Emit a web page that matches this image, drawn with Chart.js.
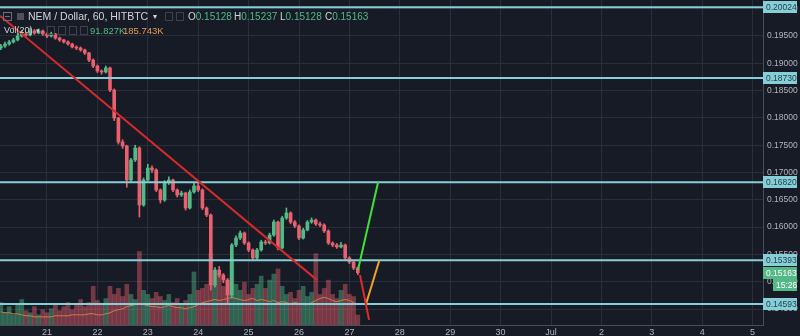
<!DOCTYPE html>
<html>
<head>
<meta charset="utf-8">
<script src="https://cdn.jsdelivr.net/npm/chart.js@4"></script>
<style>
  html, body { margin: 0; padding: 0; background: #171b26; }
  #wrap { width: 800px; height: 336px; }
</style>
</head>
<body>
<div id="wrap"><canvas id="nemChart" width="800" height="336"></canvas></div>
<script>
// NEM / Dollar, 60, HITBTC - 2 hour candles
const startDay = 20;          // June 20, first candle at 02:00
const stepHours = 2;
const firstOpen = 0.19280;
const closes = [
  0.19317, 0.19353, 0.19390, 0.19427, 0.19500, 0.19537, 0.19518, 0.19592, 0.19555, 0.19592,
  0.19537, 0.19500, 0.19537, 0.19463, 0.19427, 0.19390, 0.19353, 0.19299, 0.19280, 0.19244,
  0.19189, 0.19060, 0.18950, 0.18859, 0.18841, 0.18914, 0.18511, 0.17998, 0.17559, 0.17485,
  0.16863, 0.17229, 0.17449, 0.16405, 0.16863, 0.17082, 0.17046, 0.16680, 0.16496, 0.16808,
  0.16863, 0.16680, 0.16588, 0.16625, 0.16350, 0.16643, 0.16753, 0.16680, 0.16350, 0.16222,
  0.14940, 0.15214, 0.15123, 0.15031, 0.14756, 0.15672, 0.15800, 0.15892, 0.15709, 0.15581,
  0.15434, 0.15581, 0.15727, 0.15709, 0.15855, 0.16093, 0.15617, 0.16167, 0.16258, 0.16093,
  0.16020, 0.15800, 0.15947, 0.16093, 0.16130, 0.16057, 0.16038, 0.15929, 0.15709, 0.15672,
  0.15636, 0.15672, 0.15434, 0.15361, 0.15251, 0.15163
];
const highs = [
  0.19345, 0.19390, 0.19420, 0.19460, 0.19540, 0.19600, 0.19570, 0.19640, 0.19620, 0.19630,
  0.19610, 0.19560, 0.19570, 0.19550, 0.19480, 0.19440, 0.19410, 0.19370, 0.19320, 0.19300,
  0.19260, 0.19200, 0.19080, 0.18970, 0.18880, 0.18950, 0.18930, 0.18530, 0.18010, 0.17600,
  0.17500, 0.17260, 0.17500, 0.17470, 0.16900, 0.17150, 0.17120, 0.17070, 0.16700, 0.16850,
  0.16920, 0.16880, 0.16700, 0.16660, 0.16640, 0.16680, 0.16800, 0.16840, 0.16700, 0.16370,
  0.16240, 0.15260, 0.15280, 0.15150, 0.15060, 0.15700, 0.15840, 0.15930, 0.15910, 0.15730,
  0.15600, 0.15610, 0.15760, 0.15760, 0.15890, 0.16130, 0.16110, 0.16200, 0.16350, 0.16280,
  0.16120, 0.16040, 0.15980, 0.16120, 0.16170, 0.16150, 0.16090, 0.16060, 0.15950, 0.15730,
  0.15700, 0.15720, 0.15690, 0.15460, 0.15380, 0.15270
];
const lows = [
  0.19250, 0.19290, 0.19330, 0.19370, 0.19410, 0.19480, 0.19490, 0.19500, 0.19530, 0.19540,
  0.19510, 0.19470, 0.19480, 0.19440, 0.19400, 0.19370, 0.19330, 0.19280, 0.19250, 0.19220,
  0.19160, 0.19030, 0.18920, 0.18830, 0.18800, 0.18820, 0.18480, 0.17950, 0.17520, 0.17440,
  0.16730, 0.16820, 0.17200, 0.16185, 0.16380, 0.16840, 0.17000, 0.16650, 0.16440, 0.16470,
  0.16780, 0.16650, 0.16550, 0.16560, 0.16310, 0.16330, 0.16620, 0.16650, 0.16320, 0.16190,
  0.14848, 0.14900, 0.15080, 0.14980, 0.14610, 0.14700, 0.15640, 0.15770, 0.15680, 0.15550,
  0.15400, 0.15410, 0.15560, 0.15680, 0.15690, 0.15830, 0.15580, 0.15600, 0.16140, 0.16060,
  0.15990, 0.15770, 0.15780, 0.15930, 0.16070, 0.16030, 0.16010, 0.15900, 0.15680, 0.15640,
  0.15610, 0.15620, 0.15400, 0.15330, 0.15220, 0.15128
];
// volume in thousands
const volumes = [
  207, 113, 169, 94, 188, 235, 132, 113, 169, 94, 141, 113, 150, 188, 132, 169, 207, 141, 188, 235,
  169, 207, 357, 226, 188, 244, 357, 282, 338, 263, 376, 282, 235, 677, 320, 282, 244, 301, 263, 226,
  282, 207, 244, 188, 226, 282, 489, 320, 338, 376, 658, 376, 470, 357, 414, 583, 376, 320, 395, 282,
  338, 376, 451, 338, 414, 470, 517, 357, 282, 301, 244, 320, 357, 263, 301, 658, 282, 338, 414, 282,
  244, 320, 376, 282, 263, 92
];
const volumeMA = [
  122, 113, 113, 103, 103, 94, 85, 85, 75, 75, 75, 75, 75, 85, 85, 85, 85, 94, 94, 94,
  94, 103, 103, 94, 94, 103, 113, 132, 141, 150, 169, 179, 188, 197, 188, 179, 169, 169, 160, 169,
  179, 169, 160, 160, 150, 160, 169, 188, 207, 216, 226, 235, 226, 235, 244, 254, 244, 235, 226, 235,
  244, 226, 235, 226, 216, 226, 207, 216, 207, 197, 207, 197, 188, 188, 207, 226, 244, 254, 244, 226,
  216, 226, 235, 226, 207, 188
];

// horizontal levels and hand drawn lines (day of month, price)
const levels = [0.20024, 0.18730, 0.16820, 0.15393, 0.14593];
const redTrend = [[20.0675, 0.19870], [26.36, 0.15029]];
const greenLeg = [[27.17, 0.15214], [27.57, 0.16826]];
const redLeg = [[27.21, 0.15122], [27.39, 0.14300]];
const orangeLeg = [[27.33, 0.14591], [27.59, 0.15379]];

// axes
const dayTicks = [21, 22, 23, 24, 25, 26, 27, 28, 29, 30, 31, 32, 33, 34, 35];
const dayLabels = ["21", "22", "23", "24", "25", "26", "27", "28", "29", "30", "Jul", "2", "3", "4", "5"];
const priceTicks = [0.145, 0.150, 0.155, 0.160, 0.165, 0.170, 0.175, 0.180, 0.185, 0.190, 0.195, 0.200];
const xMin = 20.0675, xMax = 35.206;
const yMin = 0.14207, yMax = 0.20159;

const upColor = "#53b987";
const downColor = "#e9606e";
const levelColor = "#86cfd9";
const gridColor = "#2a2e3b";
const textColor = "#b2b5be";
const fontFamily = "'Liberation Sans', Arial, sans-serif";

// build candle pieces
const xs = closes.map((c, i) => startDay + (stepHours + stepHours * i) / 24);
const opens = closes.map((c, i) => (i === 0 ? firstOpen : closes[i - 1]));
const isUp = closes.map((c, i) => c >= opens[i]);

const wickData = xs.map((x, i) => ({ x: x, y: [lows[i], highs[i]] }));
const bodyData = xs.map((x, i) => ({ x: x, y: [opens[i], closes[i]] }));
const volData = xs.map((x, i) => ({ x: x, y: volumes[i] }));
const maData = xs.map((x, i) => ({ x: x, y: volumeMA[i] }));
const candleColors = isUp.map(u => (u ? upColor : downColor));
const volColors = isUp.map(u => (u ? "rgba(83,185,135,0.45)" : "rgba(233,96,110,0.45)"));

function segment(points, color, width) {
    return {
        type: "line",
        data: points.map(p => ({ x: p[0], y: p[1] })),
        borderColor: color,
        borderWidth: width,
        pointRadius: 0,
        tension: 0,
        yAxisID: "y",
        order: 1,
    };
}

const levelSets = levels.map(v => ({
    type: "line",
    data: [{ x: xMin, y: v }, { x: xMax, y: v }],
    borderColor: levelColor,
    borderWidth: 2,
    pointRadius: 0,
    yAxisID: "y",
    order: 3,
}));

// overlay: legend header and price axis boxes
const overlay = {
    id: "overlay",
    afterDraw(chart) {
        const ctx = chart.ctx;
        const y = chart.scales.y;
        ctx.save();

        // header icons
        ctx.strokeStyle = "#6a6e7a";
        ctx.lineWidth = 1;
        ctx.strokeRect(3.5, 12.5, 8, 8);
        ctx.beginPath(); ctx.moveTo(5, 16.5); ctx.lineTo(10, 16.5); ctx.stroke();
        ctx.fillStyle = "#4d515c";
        ctx.fillRect(17, 13, 7, 7);
        ctx.strokeStyle = "#3d414c";
        ctx.strokeRect(165.5, 12.5, 7, 8);
        ctx.strokeRect(176.5, 12.5, 7, 8);
        [47, 58, 69, 80].forEach(x => ctx.strokeRect(x + 0.5, 26.5, 7, 8));

        ctx.textBaseline = "middle";
        ctx.textAlign = "left";
        ctx.font = "10.5px " + fontFamily;
        ctx.fillStyle = "#d1d4dc";
        ctx.fillText("NEM / Dollar, 60, HITBTC", 28, 17);
        ctx.font = "8px " + fontFamily;
        ctx.fillText("\u25BE", 153, 17);

        const ohlc = [["O", "0.15128", 188], ["H", "0.15237", 234], ["L", "0.15128", 280], ["C", "0.15163", 325]];
        ctx.font = "10px " + fontFamily;
        ohlc.forEach(item => {
            ctx.fillStyle = "#d1d4dc";
            ctx.fillText(item[0], item[2], 17);
            const w = ctx.measureText(item[0]).width;
            ctx.fillStyle = upColor;
            ctx.fillText(item[1], item[2] + w, 17);
        });

        ctx.font = "9px " + fontFamily;
        ctx.fillStyle = "#d1d4dc";
        ctx.fillText("Vol(20)", 4, 31);
        ctx.font = "7px " + fontFamily;
        ctx.fillText("\u25BE", 36, 31);
        ctx.font = "9.5px " + fontFamily;
        ctx.fillStyle = upColor;
        ctx.fillText("91.827K", 90, 31);
        ctx.fillStyle = "#e69a52";
        ctx.fillText("185.743K", 123, 31);

        // price axis boxes
        ctx.font = "8.5px " + fontFamily;
        levels.forEach(v => {
            const py = Math.round(y.getPixelForValue(v));
            ctx.fillStyle = levelColor;
            ctx.fillRect(763, py - 6, 34, 12);
            ctx.fillStyle = "#25414a";
            ctx.fillText(v.toFixed(5), 766, py + 0.5);
        });
        const last = closes[closes.length - 1];
        const ly = Math.round(y.getPixelForValue(last));
        ctx.fillStyle = upColor;
        ctx.fillRect(763, ly - 6, 34, 12);
        ctx.fillRect(773, ly + 6, 24, 12);
        ctx.fillStyle = "#ffffff";
        ctx.fillText(last.toFixed(5), 766, ly + 0.5);
        ctx.fillText("15:26", 776, ly + 12.5);
        ctx.restore();
    }
};

const ctx = document.getElementById("nemChart").getContext("2d");
new Chart(ctx, {
    type: "bar",
    data: {
        datasets: [
            segment(redTrend, "#d42a2a", 2),
            segment(greenLeg, "#3fe03a", 2),
            segment(redLeg, "#e02a2a", 2),
            segment(orangeLeg, "#f2a22c", 2),
            ...levelSets,
            {
                type: "bar",
                data: bodyData,
                backgroundColor: candleColors,
                barThickness: 3,
                minBarLength: 1,
                grouped: false,
                yAxisID: "y",
                order: 4,
            },
            {
                type: "bar",
                data: wickData,
                backgroundColor: candleColors,
                barThickness: 1,
                grouped: false,
                yAxisID: "y",
                order: 5,
            },
            {
                type: "line",
                data: maData,
                borderColor: "#c9824a",
                borderWidth: 1,
                pointRadius: 0,
                tension: 0.3,
                yAxisID: "vol",
                order: 9,
            },
            {
                type: "bar",
                data: volData,
                backgroundColor: volColors,
                barThickness: 4,
                grouped: false,
                yAxisID: "vol",
                order: 10,
            },
        ],
    },
    options: {
        responsive: false,
        animation: false,
        layout: { padding: 0 },
        plugins: {
            legend: { display: false },
            tooltip: { enabled: false },
        },
        scales: {
            x: {
                type: "linear",
                min: xMin,
                max: xMax,
                offset: false,
                afterBuildTicks: scale => { scale.ticks = dayTicks.map(v => ({ value: v })); },
                afterFit: scale => {
                    scale.height = 11;
                    scale.paddingLeft = 0;
                    scale.paddingRight = 0;
                },
                ticks: {
                    color: textColor,
                    font: { size: 9, family: fontFamily },
                    padding: 2,
                    maxRotation: 0,
                    autoSkip: false,
                    callback: (v, i) => dayLabels[i],
                },
                grid: { color: gridColor, drawTicks: false, offset: false },
                border: { color: "#4a4e5a" },
            },
            y: {
                position: "right",
                min: yMin,
                max: yMax,
                afterBuildTicks: scale => { scale.ticks = priceTicks.map(v => ({ value: v })); },
                afterFit: scale => {
                    scale.width = 37;
                    scale.paddingTop = 0;
                    scale.paddingBottom = 0;
                },
                ticks: {
                    color: textColor,
                    font: { size: 8.5, family: fontFamily },
                    padding: 4,
                    callback: v => v.toFixed(5),
                },
                grid: { color: gridColor, drawTicks: false },
                border: { color: "#4a4e5a" },
            },
            vol: {
                display: false,
                min: 0,
                max: 3000,
            },
        },
    },
    plugins: [overlay],
});
</script>
</body>
</html>
